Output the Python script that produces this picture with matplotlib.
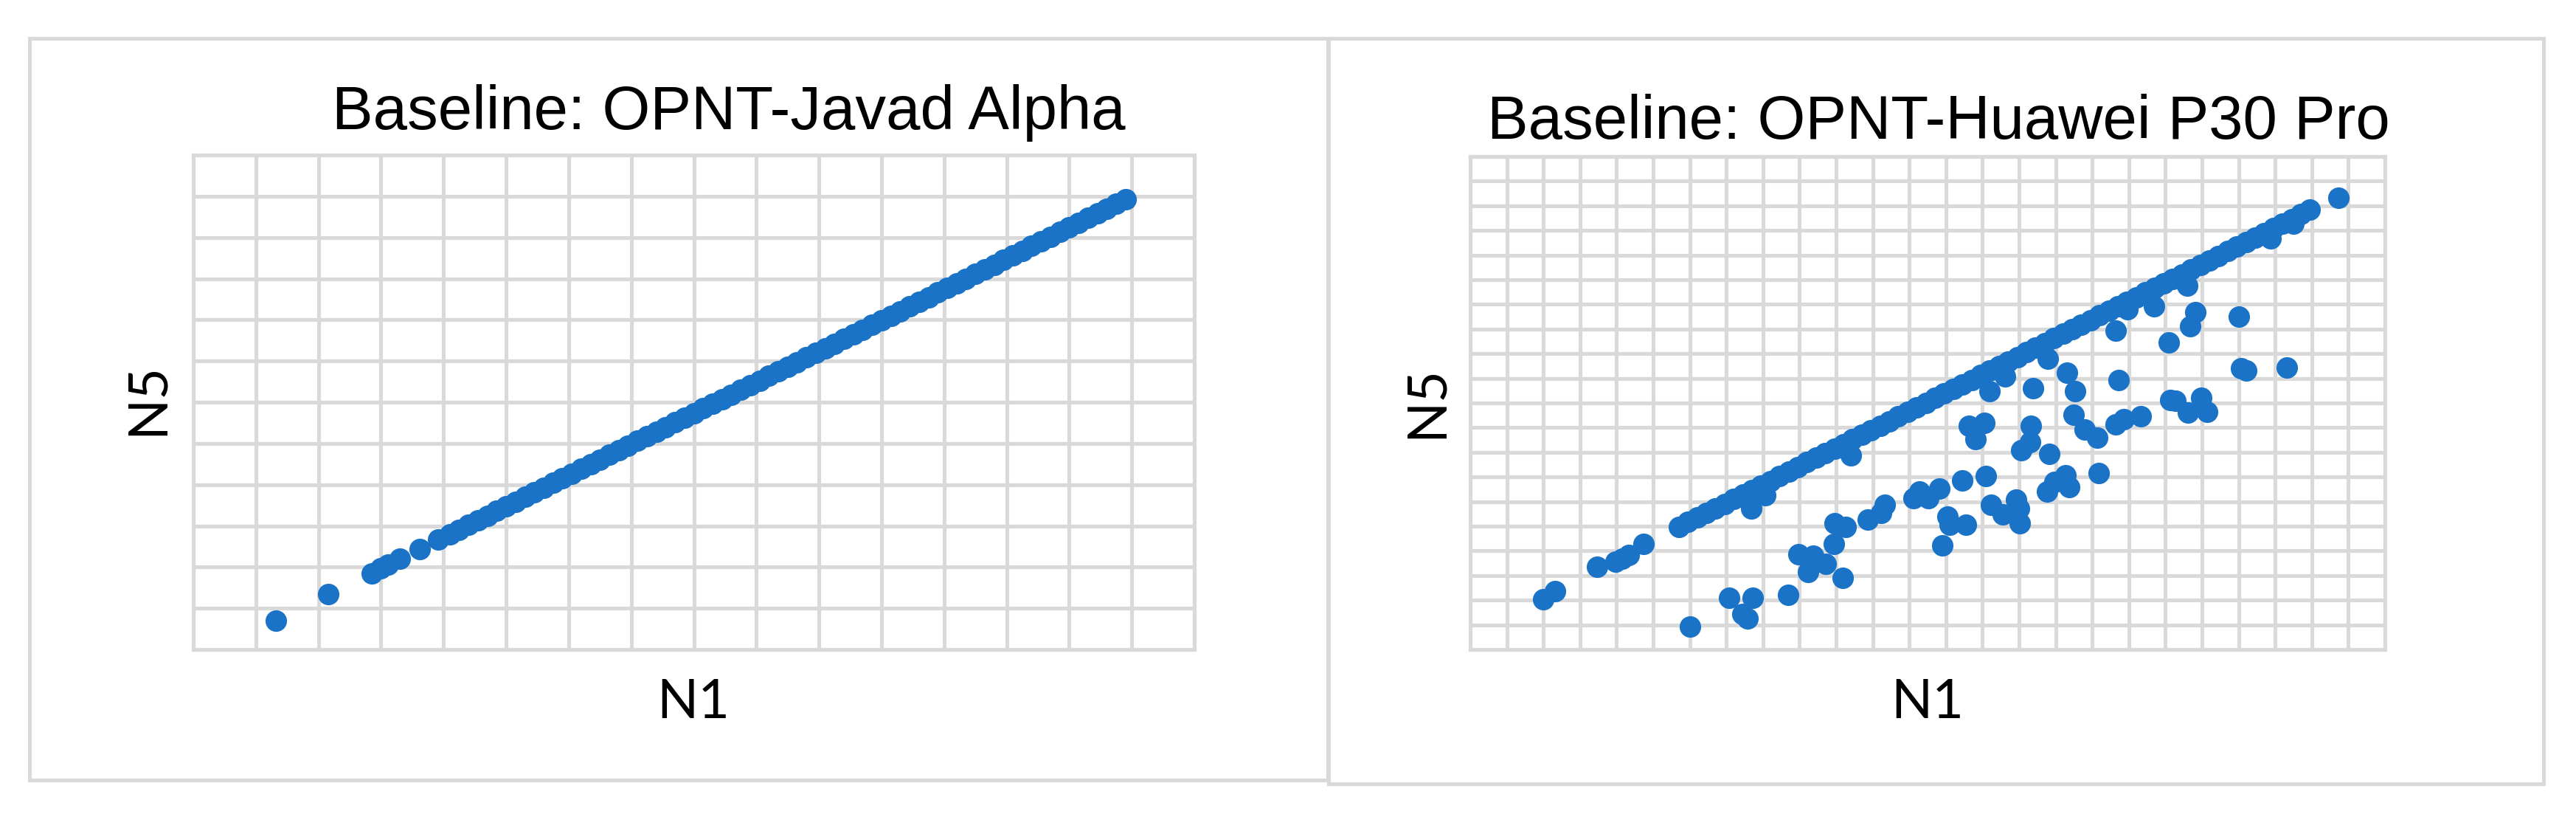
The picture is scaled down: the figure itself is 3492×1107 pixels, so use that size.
import matplotlib
matplotlib.use("Agg")
import matplotlib.pyplot as plt
from matplotlib.patches import Rectangle

# Values in grid units (axes carry no tick labels)
javad_n1 = [1.32, 2.16, 2.85, 2.99, 3.11, 3.30, 3.62, 3.92,
            4.10, 4.25, 4.40, 4.55, 4.70, 4.85, 5.00, 5.15, 5.30, 5.45,
            5.60, 5.75, 5.90, 6.05, 6.20, 6.35, 6.50, 6.65, 6.80, 6.95,
            7.10, 7.25, 7.40, 7.55, 7.70, 7.85, 8.00, 8.15, 8.30, 8.45,
            8.60, 8.75, 8.90, 9.05, 9.20, 9.35, 9.50, 9.65, 9.80, 9.95,
            10.10, 10.25, 10.40, 10.55, 10.70, 10.85, 11.00, 11.15, 11.30,
            11.45, 11.60, 11.75, 11.90, 12.05, 12.20, 12.35, 12.50, 12.65,
            12.80, 12.95, 13.10, 13.25, 13.40, 13.55, 13.70, 13.85, 14.00,
            14.15, 14.30, 14.45, 14.60, 14.75, 14.90]
javad_n5 = [0.70, 1.34, 1.85, 1.97, 2.06, 2.20, 2.43, 2.67,
            2.80, 2.91, 3.03, 3.14, 3.25, 3.36, 3.48, 3.59, 3.70, 3.82,
            3.93, 4.04, 4.15, 4.27, 4.38, 4.49, 4.60, 4.72, 4.83, 4.94,
            5.06, 5.17, 5.28, 5.39, 5.51, 5.62, 5.73, 5.85, 5.96, 6.07,
            6.18, 6.30, 6.41, 6.52, 6.64, 6.75, 6.86, 6.97, 7.09, 7.20,
            7.31, 7.42, 7.54, 7.65, 7.76, 7.88, 7.99, 8.10, 8.21,
            8.33, 8.44, 8.55, 8.67, 8.78, 8.89, 9.00, 9.12, 9.23,
            9.34, 9.46, 9.57, 9.68, 9.79, 9.91, 10.02, 10.13, 10.25,
            10.36, 10.47, 10.58, 10.70, 10.81, 10.92]

# Huawei P30 Pro: points lying on the main trend
huawei_line_n1 = [1.99, 2.32, 3.46, 3.97, 4.15, 4.34, 4.73,
                  5.70, 5.95, 6.20, 6.45, 6.70, 6.95, 7.20, 7.45, 7.70, 7.95,
                  8.20, 8.45, 8.70, 8.95, 9.20, 9.45, 9.70, 9.95, 10.20, 10.45,
                  10.70, 10.95, 11.20, 11.45, 11.70, 11.95, 12.20, 12.45, 12.70,
                  12.95, 13.20, 13.45, 13.70, 13.95, 14.20, 14.45, 14.70, 14.95,
                  15.20, 15.45, 15.70, 15.95, 16.20, 16.45, 16.70, 16.95, 17.20,
                  17.45, 17.70, 17.95, 18.20, 18.45, 18.70, 18.95, 19.20, 19.45,
                  19.70, 19.95, 20.20, 20.45, 20.70, 20.95, 21.20, 21.45, 21.70,
                  21.95, 22.20, 22.45, 22.70, 22.95, 23.73]
huawei_line_n5 = [2.05, 2.37, 3.36, 3.57, 3.69, 3.84, 4.27,
                  4.98, 5.17, 5.35, 5.54, 5.72, 5.91, 6.10, 6.28, 6.47, 6.66,
                  6.84, 7.03, 7.21, 7.40, 7.59, 7.77, 7.96, 8.15, 8.33, 8.52,
                  8.71, 8.89, 9.08, 9.26, 9.45, 9.64, 9.82, 10.01, 10.20,
                  10.38, 10.57, 10.75, 10.94, 11.13, 11.31, 11.50, 11.69, 11.87,
                  12.06, 12.24, 12.43, 12.62, 12.80, 12.99, 13.18, 13.36, 13.55,
                  13.73, 13.92, 14.11, 14.29, 14.48, 14.67, 14.85, 15.04, 15.22,
                  15.41, 15.60, 15.78, 15.97, 16.16, 16.34, 16.53, 16.71, 16.90,
                  17.09, 17.27, 17.46, 17.65, 17.83, 18.33]

# Huawei P30 Pro: scattered points below the trend
huawei_off_n1 = [6.01, 7.08, 7.72, 7.44, 7.59, 8.68, 8.97, 9.38, 9.71, 9.23,
                 10.18, 9.94, 9.96, 10.26, 10.86, 11.22, 11.33, 12.12, 12.27,
                 12.53, 12.82, 13.45, 14.10, 12.91, 13.04, 13.10, 13.55, 14.23,
                 14.55, 14.92, 14.99, 15.03, 13.62, 14.06, 13.81, 14.19, 14.62,
                 15.38, 15.33, 15.31, 15.06, 15.83, 15.76, 15.96, 16.27, 16.37,
                 17.18, 16.31, 16.54, 16.50, 16.79, 17.14, 17.65, 17.87, 18.32,
                 17.72, 17.65, 18.68, 17.97, 15.79, 19.10, 19.13, 21.00, 21.07,
                 21.21, 22.31, 20.14, 19.97, 19.61, 19.27, 19.68, 19.81, 19.60,
                 21.88, 22.49, 10.41, 7.68, 8.06]
huawei_off_n5 = [0.93, 2.09, 2.09, 1.43, 1.27, 2.23, 3.87, 3.80, 3.47, 3.13,
                 2.89, 4.29, 5.13, 4.96, 5.27, 5.53, 5.87, 6.13, 6.40,
                 6.13, 6.53, 6.87, 7.03, 4.23, 5.40, 5.07, 5.07, 5.87,
                 5.47, 6.07, 5.73, 5.11, 9.07, 9.20, 8.53, 10.49, 11.07,
                 10.60, 9.07, 8.40, 8.09, 7.93, 6.40, 6.80, 7.07, 6.60,
                 7.16, 11.24, 10.49, 9.53, 8.93, 8.60, 9.13, 9.33, 9.47,
                 10.93, 12.93, 13.93, 13.80, 11.80, 12.47, 10.13, 13.49, 11.40,
                 11.33, 11.44, 9.63, 10.20, 9.60, 10.09, 13.11, 13.69, 14.76,
                 16.67, 17.27, 7.87, 5.73, 6.27]

titles = ["Baseline: OPNT-Javad Alpha", "Baseline: OPNT-Huawei P30 Pro"]
x_label = "N1"
y_label = "N5"

W, H = 3492, 1107
BLUE = "#1a73c6"
GRID = "#d9d9d9"
DOT = 440


def fx(px):
    return px / W


def fy(py):
    return 1 - py / H


def make_panel(fig, box, nx, ny):
    """Axes with a plain light-grey grid and no ticks."""
    left, top, right, bottom = box
    ax = fig.add_axes([fx(left), fy(bottom), fx(right - left),
                       (bottom - top) / H])
    ax.set_xlim(0, nx)
    ax.set_ylim(0, ny)
    ax.set_xticks(range(nx + 1))
    ax.set_yticks(range(ny + 1))
    ax.tick_params(length=0, labelbottom=False, labelleft=False)
    ax.grid(True, color=GRID, linewidth=3.7)
    ax.set_axisbelow(True)
    for sp in ax.spines.values():
        sp.set_color(GRID)
        sp.set_linewidth(3.7)
    return ax


fig = plt.figure(figsize=(W / 100, H / 100), dpi=100)

# chart frames
fig.add_artist(Rectangle((fx(40), fy(1057)), fx(1800 - 40), (1057 - 52) / H,
                         transform=fig.transFigure, fill=False,
                         edgecolor=GRID, linewidth=3.7))
fig.add_artist(Rectangle((fx(1801), fy(1062)), fx(3448 - 1801),
                         (1062 - 52) / H, transform=fig.transFigure,
                         fill=False, edgecolor=GRID, linewidth=3.7))

ax1 = make_panel(fig, (262, 210, 1619, 880), 16, 12)
ax1.scatter(javad_n1, javad_n5, s=DOT, color=BLUE, linewidths=0, zorder=3,
            clip_on=False)

ax2 = make_panel(fig, (1993, 212, 3233, 880), 25, 20)
ax2.scatter(huawei_line_n1, huawei_line_n5, s=DOT, color=BLUE, linewidths=0,
            zorder=3, clip_on=False)
ax2.scatter(huawei_off_n1, huawei_off_n5, s=DOT, color=BLUE, linewidths=0,
            zorder=3, clip_on=False)

title_font = dict(family="Liberation Sans", size=60, color="black")
fig.text(fx(988), fy(175), titles[0], ha="center", va="baseline", **title_font)
fig.text(fx(2628), fy(188), titles[1], ha="center", va="baseline",
         **title_font)

label_font = dict(family="Lato", size=53, color="black")
fig.text(fx(940), fy(973), x_label, ha="center", va="baseline", **label_font)
fig.text(fx(2613), fy(973), x_label, ha="center", va="baseline", **label_font)
fig.text(fx(200), fy(541), y_label, ha="center", va="center", rotation=90,
         **label_font)
fig.text(fx(1934), fy(545), y_label, ha="center", va="center", rotation=90,
         **label_font)

fig.savefig("out.png", dpi=100)
